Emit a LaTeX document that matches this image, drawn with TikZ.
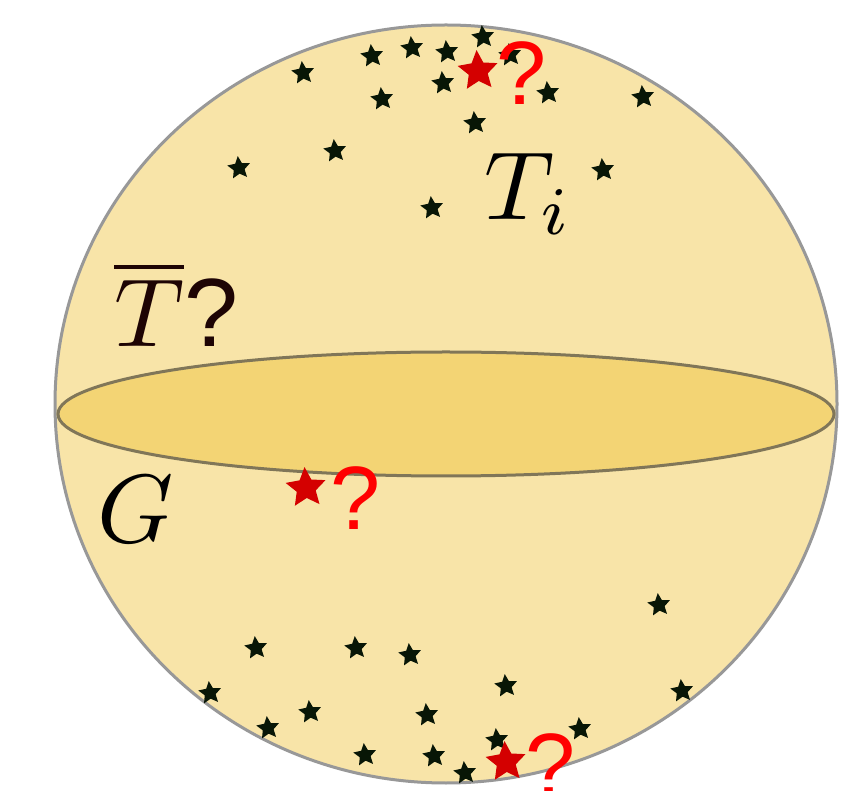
\documentclass[tikz,border=0pt]{standalone}
\usepackage{amsmath}
\usepackage{fontspec}
\newfontfamily\qmark{Liberation Sans}
\usepackage{xcolor}
\usepackage{tikz}
\usetikzlibrary{shapes.geometric}

\tikzset{
  blackstar/.style={star,star points=5,star point ratio=2.1,inner sep=0pt,outer sep=0pt,minimum size=24pt,fill=starColor,rotate=6},
  redstar/.style={star,star points=5,star point ratio=2.1,inner sep=0pt,outer sep=0pt,minimum size=42pt,fill=redStarColor,rotate=4},
  label/.style={anchor=base west,inner sep=0pt,outer sep=0pt}
}

\begin{document}
\begin{tikzpicture}[x=1pt,y=1pt]
\definecolor{fillColor}{RGB}{255,255,255}
\definecolor{starColor}{RGB}{8,22,6}
\definecolor{redStarColor}{RGB}{212,0,0}
\definecolor{qColor}{RGB}{255,0,0}
\path[use as bounding box,fill=fillColor] (0,0) rectangle (843,790);
\begin{scope}
\path[clip] (0,0) rectangle (843,790);
\definecolor{drawColor}{RGB}{152,152,152}
\definecolor{fillColor}{RGB}{248,228,168}

% sphere
\path[draw=drawColor,line width= 3pt,fill=fillColor] (446,386) ellipse [x radius=391,y radius=379];
\definecolor{drawColor}{RGB}{128,118,88}
\definecolor{fillColor}{RGB}{243,212,116}

% equator disc
\path[draw=drawColor,line width= 3pt,fill=fillColor] (446,376) ellipse [x radius=388,y radius=62];

% stars near the top
\foreach \x/\y [count=\n] in {303/717,372/734,412/742,447/738,483/753,510/735,443/707,382/691,
  548/697,643/693,475/667,335/639,239/622,603/620,432/582}
  \node[blackstar] (top\n) at (\x,\y) {};

% stars near the bottom
\foreach \x/\y [count=\n] in {659/185,256/142,356/142,410/135,210/97,506/104,682/99,310/78,
  268/62,427/75,580/61,497/50,365/35,434/34,465/17}
  \node[blackstar] (bot\n) at (\x,\y) {};

\node[redstar] (redtop) at (478,719) {};
\node[redstar] (redmid) at (306,302) {};
\node[redstar] (redbot) at (506,28) {};

\node[label,text=qColor,scale=9.0] (qtop) at (496,685) {\qmark ?};
\node[label,text=qColor,scale=9.0] (qmid) at (330,261) {\qmark ?};
\node[label,text=qColor,scale=9.0] (qbot) at (525,-6) {\qmark ?};
\definecolor{drawColor}{RGB}{0,0,0}

\node[label,text=drawColor,scale=9.7] (ti) at (484,570) {$T_i$};
\node[label,text=drawColor,scale=9.7] (g) at (97,248) {$G$};
\definecolor{drawColor}{RGB}{30,4,4}

\node[label,text=drawColor,scale=9.7] (tbar) at (114,443) {$\overline{T}$\qmark ?};
\end{scope}
\end{tikzpicture}
\end{document}
